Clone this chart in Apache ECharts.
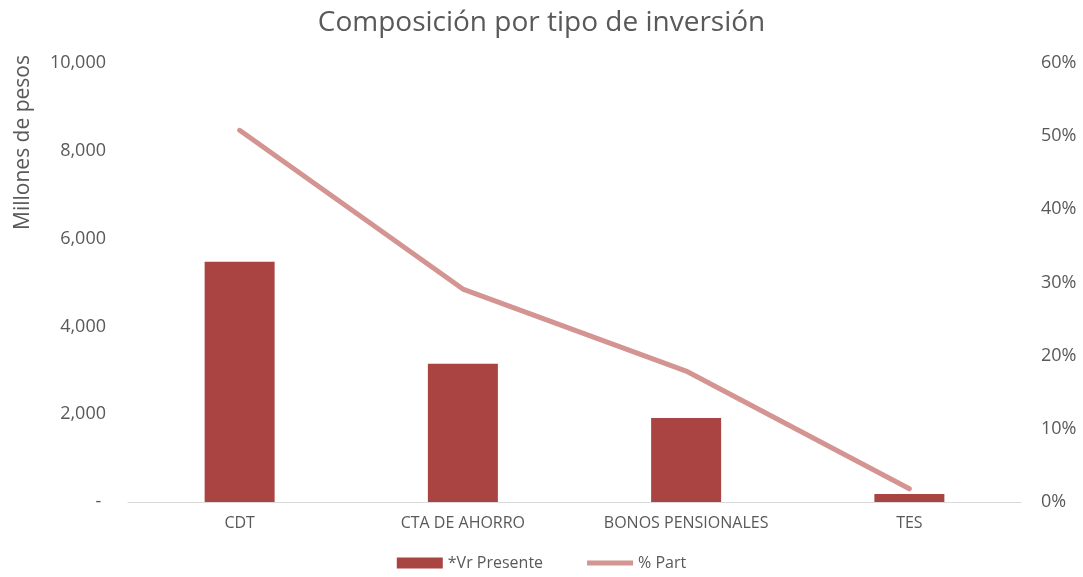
<!DOCTYPE html>
<html>
<head>
<meta charset="utf-8">
<script src="https://cdn.jsdelivr.net/npm/echarts@6/dist/echarts.min.js"></script>
<style>
  html, body { margin: 0; padding: 0; background: #fff; }
  #main { width: 1083px; height: 577px; }
</style>
</head>
<body>
<div id="main"></div>
<script>
var categories = ['CDT', 'CTA DE AHORRO', 'BONOS PENSIONALES', 'TES'];
var vrPresente = [5470, 3150, 1915, 185];
var pctPart = [50.8, 29.1, 17.9, 1.8];

var chartDom = document.getElementById('main');
var myChart = echarts.init(chartDom);

var textColor = '#595959';
var font = 'Open Sans';

var option = {
  animation: false,
  title: {
    text: 'Composición por tipo de inversión',
    left: 'center',
    top: 4,
    textStyle: { fontFamily: font, fontSize: 28, fontWeight: 'normal', color: textColor }
  },
  legend: {
    bottom: 1,
    left: 'center',
    itemGap: 44,
    itemWidth: 46,
    itemHeight: 11,
    textStyle: { fontFamily: font, fontSize: 16, color: textColor },
    data: [
      { name: '*Vr Presente', icon: 'rect' },
      { name: '% Part', icon: 'path://M0,0 L46,0 L46,5 L0,5 Z' }
    ]
  },
  grid: { left: 128, right: 62, top: 63, bottom: 75 },
  xAxis: {
    type: 'category',
    data: categories,
    axisTick: { show: false },
    axisLine: { lineStyle: { color: '#d9d9d9', width: 1 } },
    axisLabel: { fontFamily: font, fontSize: 16, color: textColor, margin: 13 }
  },
  yAxis: [
    {
      type: 'value',
      min: 0,
      max: 10000,
      interval: 2000,
      name: 'Millones de pesos',
      nameLocation: 'end',
      nameRotate: 90,
      nameGap: 8,
      nameTextStyle: { fontFamily: font, fontSize: 21, color: textColor, align: 'right', verticalAlign: 'bottom', padding: [0, 0, 94, 0] },
      splitLine: { show: false },
      axisLine: { show: false },
      axisTick: { show: false },
      axisLabel: {
        fontFamily: font, fontSize: 18, color: textColor, margin: 22,
        formatter: function (v) {
          if (v === 0) return '- ';
          return v.toLocaleString('en-US');
        }
      }
    },
    {
      type: 'value',
      min: 0,
      max: 60,
      interval: 10,
      splitLine: { show: false },
      axisLine: { show: false },
      axisTick: { show: false },
      axisLabel: { fontFamily: font, fontSize: 18, color: textColor, margin: 20, formatter: '{value}%' }
    }
  ],
  series: [
    {
      name: '*Vr Presente',
      type: 'bar',
      data: vrPresente,
      barWidth: 70,
      itemStyle: { color: '#a94442' }
    },
    {
      name: '% Part',
      type: 'line',
      yAxisIndex: 1,
      data: pctPart,
      symbol: 'none',
      lineStyle: { color: '#d49491', width: 5, cap: 'round', join: 'round' },
      itemStyle: { color: '#d49491' }
    }
  ]
};

myChart.setOption(option);
</script>
</body>
</html>
